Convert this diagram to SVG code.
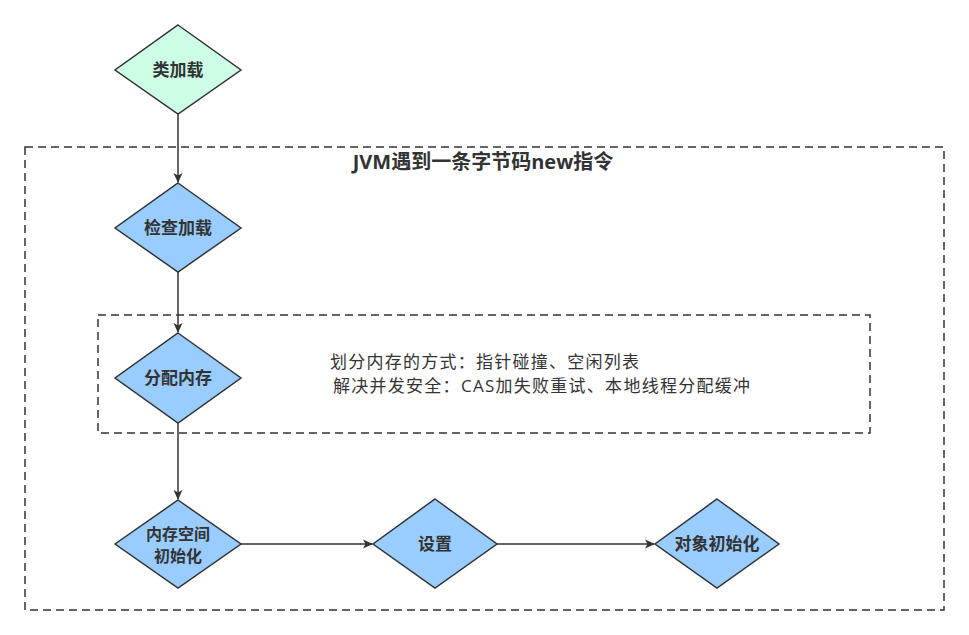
<svg xmlns="http://www.w3.org/2000/svg" width="969" height="635" viewBox="0 0 969 635">
<style>
.d{fill:#99CCFF;stroke:#333333;stroke-width:1.5}
.g{fill:#CCFFE6;stroke:#333333;stroke-width:1.5}
.t{font-family:"Open Sans","Noto Sans CJK SC",sans-serif;font-size:17px;font-weight:bold;fill:#333333;text-anchor:middle}
.n{font-family:"Open Sans","Noto Sans CJK SC",sans-serif;font-size:17px;fill:#333333}
.box{fill:none;stroke:#333333;stroke-width:1.5;stroke-dasharray:8,5}
.c{fill:none;stroke:#333333;stroke-width:1.5}
</style>
<defs>
<marker id="a" markerWidth="10" markerHeight="10" refX="9" refY="5" orient="auto" markerUnits="userSpaceOnUse"><path d="M0,0.5 L10,5 L0,9.5 L2.5,5 Z" fill="#333333"/></marker>
</defs>
<rect width="969" height="635" fill="#ffffff"/>
<g id="group-jvm">
<rect class="box" x="25" y="147" width="919" height="463"/>
<text class="t" x="483" y="169" style="font-size:20px">JVM遇到一条字节码new指令</text>
</g>
<g id="group-alloc">
<rect class="box" x="98" y="315" width="772" height="118"/>
<text class="n" x="330" y="368" textLength="309" lengthAdjust="spacing">划分内存的方式：指针碰撞、空闲列表</text>
<text class="n" x="333" y="392" textLength="417" lengthAdjust="spacing">解决并发安全：CAS加失败重试、本地线程分配缓冲</text>
</g>
<g id="connectors">
<path class="c" d="M178,114 V182" marker-end="url(#a)"/>
<path class="c" d="M178,272 V332" marker-end="url(#a)"/>
<path class="c" d="M178,423 V499" marker-end="url(#a)"/>
<path class="c" d="M241,544 H372" marker-end="url(#a)"/>
<path class="c" d="M497,544 H654" marker-end="url(#a)"/>
</g>
<g id="node-classload">
<polygon class="g" points="178,25 241,70 178,114 115,70"/>
<text class="t" x="178" y="76">类加载</text>
</g>
<g id="node-check">
<polygon class="d" points="178,183 241,228 178,272 115,228"/>
<text class="t" x="178" y="234">检查加载</text>
</g>
<g id="node-alloc">
<polygon class="d" points="178,333 241,378 178,423 115,378"/>
<text class="t" x="178" y="384">分配内存</text>
</g>
<g id="node-zero">
<polygon class="d" points="178,500 241,544 178,588 115,544"/>
<text class="t" x="178" y="540" style="font-size:16px">内存空间</text>
<text class="t" x="178" y="562" style="font-size:16px">初始化</text>
</g>
<g id="node-set">
<polygon class="d" points="435,499 497,544 435,588 373,544"/>
<text class="t" x="435" y="550">设置</text>
</g>
<g id="node-init">
<polygon class="d" points="717,499 779,544 717,588 655,544"/>
<text class="t" x="717" y="550">对象初始化</text>
</g>
</svg>
